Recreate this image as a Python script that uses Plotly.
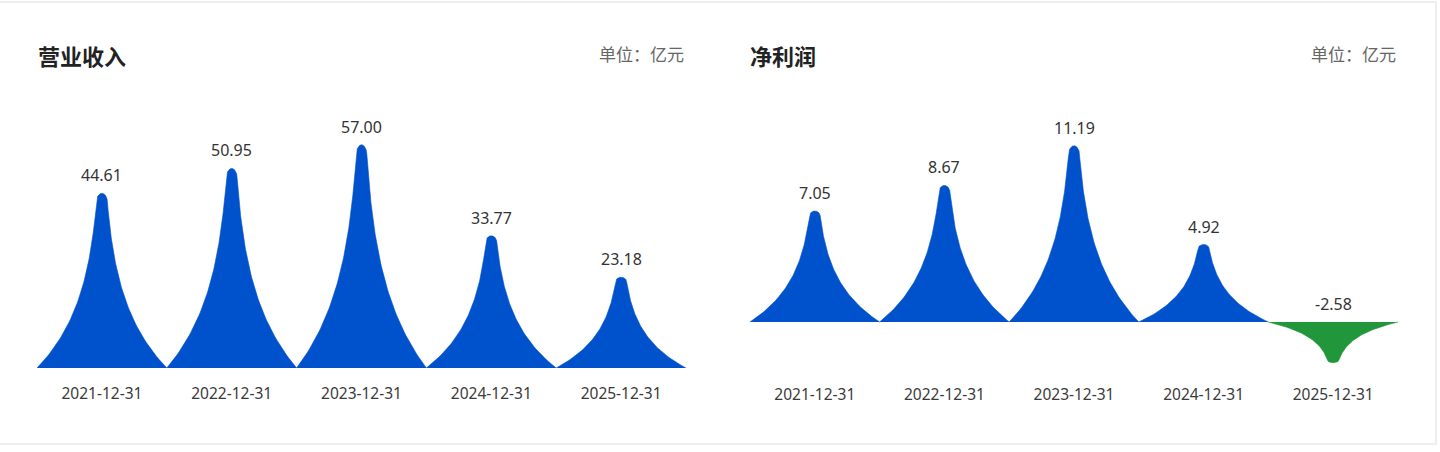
import numpy as np
import plotly.graph_objects as go

# ---- data ----
categories = ["2021-12-31", "2022-12-31", "2023-12-31", "2024-12-31", "2025-12-31"]
revenue = [44.61, 50.95, 57.00, 33.77, 23.18]
net_profit = [7.05, 8.67, 11.19, 4.92, -2.58]
titles = ["营业收入", "净利润"]
unit_text = "单位：亿元"

BLUE = "#0052cc"
GREEN = "#22963a"
FONT = "Noto Sans CJK SC"
NUM_FONT = "Noto Sans, Noto Sans CJK SC"

W, H = 1440, 452


def spike(i, v, n=120):
    """Pictorial spike: concave sides, full category width, rounded tip."""
    s = np.linspace(0, 1, n)
    h = 1 - (1 - s) ** 2  # denser sampling near the tip
    half = 0.5 * np.exp(-2.6 * h)
    c = 0.04
    cap = np.where(h > 1 - c, np.sqrt(np.clip(1 - ((h - (1 - c)) / c) ** 2, 0, 1)), 1.0)
    half = half * cap
    xs = np.concatenate([i - half, (i + half)[::-1]])
    ys = np.concatenate([v * h, (v * h)[::-1]])
    return xs, ys


fig = go.Figure()

panels = [
    dict(vals=revenue, xa="x", ya="y"),
    dict(vals=net_profit, xa="x2", ya="y2"),
]

for p in panels:
    for i, v in enumerate(p["vals"]):
        xs, ys = spike(i, v)
        col = BLUE if v >= 0 else GREEN
        fig.add_trace(go.Scatter(
            x=xs, y=ys, mode="lines", fill="toself",
            fillcolor=col, line=dict(width=0.6, color=col),
            hoverinfo="skip", showlegend=False,
            xaxis=p["xa"], yaxis=p["ya"],
        ))
        fig.add_annotation(
            x=i, y=max(v, 0), xref=p["xa"], yref=p["ya"],
            text=f"{v:.2f}", showarrow=False, yanchor="middle", yshift=18,
            font=dict(family=NUM_FONT, size=16, color="#333333"),
        )


def px_x(px):
    return px / W


def px_y(py):
    return 1 - py / H


tick_font = dict(family=NUM_FONT, size=15.5, color="#3a3a3a")
common_x = dict(
    tickmode="array", tickvals=list(range(5)), ticktext=categories,
    range=[-0.5, 4.5], showgrid=False, zeroline=False, showline=False,
    ticks="", tickfont=tick_font, fixedrange=True,
)
common_y = dict(showgrid=False, zeroline=False, showline=False,
                showticklabels=False, ticks="", fixedrange=True)

fig.update_layout(
    width=W, height=H,
    margin=dict(l=0, r=0, t=0, b=0),
    paper_bgcolor="white", plot_bgcolor="white",
    xaxis=dict(domain=[px_x(37), px_x(686)], anchor="y", ticklabelstandoff=14, **common_x),
    yaxis=dict(domain=[px_y(368), px_y(133)], range=[0, 60], anchor="x", **common_y),
    xaxis2=dict(domain=[px_x(750), px_x(1398)], anchor="y2", ticklabelstandoff=-2, **common_x),
    yaxis2=dict(domain=[px_y(385), px_y(133)], range=[-4, 12], anchor="x2", **common_y),
)

# titles and unit labels
for x0, x1, title in [(36, 686, titles[0]), (748, 1398, titles[1])]:
    fig.add_annotation(x=px_x(x0), y=px_y(55), xref="paper", yref="paper",
                       xanchor="left", yanchor="middle", showarrow=False,
                       text=f"<b>{title}</b>",
                       font=dict(family=FONT, size=22, color="#222222"))
    fig.add_annotation(x=px_x(x1), y=px_y(53), xref="paper", yref="paper",
                       xanchor="right", yanchor="middle", showarrow=False,
                       text=unit_text,
                       font=dict(family=FONT, size=17, color="#666666"))

# card border
fig.add_shape(type="rect", xref="paper", yref="paper",
              x0=-0.01, x1=px_x(1436), y0=px_y(444), y1=px_y(2),
              line=dict(color="#eeeeee", width=2), fillcolor="rgba(0,0,0,0)", layer="below")

fig.write_html("out.html")
